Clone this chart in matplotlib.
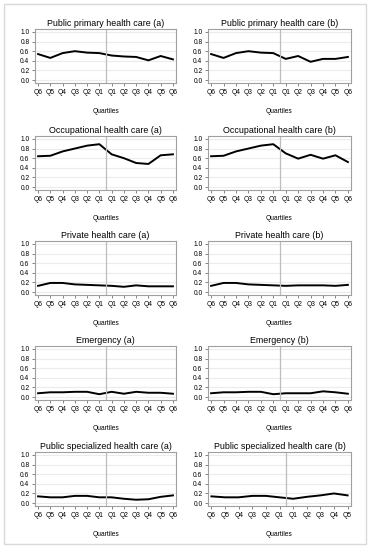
import matplotlib
matplotlib.use("Agg")
import matplotlib.pyplot as plt
from matplotlib.patches import Rectangle

plt.rcParams['font.family'] = ['Liberation Sans', 'DejaVu Sans']

labels_12 = ["Q6", "Q5", "Q4", "Q3", "Q2", "Q1", "Q1", "Q2", "Q3", "Q4", "Q5", "Q6"]
labels_11 = ["Q6", "Q5", "Q4", "Q3", "Q2", "Q1", "Q1", "Q2", "Q3", "Q4", "Q5"]

primary_a = [0.54, 0.46, 0.56, 0.60, 0.57, 0.56, 0.51, 0.49, 0.48, 0.41, 0.50, 0.43]
primary_b = [0.54, 0.46, 0.56, 0.60, 0.57, 0.56, 0.44, 0.50, 0.38, 0.44, 0.44, 0.48]
occup_a = [0.64, 0.65, 0.74, 0.80, 0.86, 0.89, 0.68, 0.60, 0.50, 0.48, 0.66, 0.68]
occup_b = [0.64, 0.65, 0.74, 0.80, 0.86, 0.89, 0.70, 0.59, 0.67, 0.59, 0.66, 0.52]
private_a = [0.13, 0.19, 0.19, 0.16, 0.15, 0.14, 0.13, 0.11, 0.14, 0.12, 0.12, 0.12]
private_b = [0.13, 0.19, 0.19, 0.16, 0.15, 0.14, 0.13, 0.14, 0.14, 0.14, 0.13, 0.15]
emerg_a = [0.08, 0.10, 0.10, 0.11, 0.11, 0.06, 0.11, 0.07, 0.11, 0.09, 0.09, 0.07]
emerg_b = [0.08, 0.10, 0.10, 0.11, 0.11, 0.06, 0.08, 0.08, 0.08, 0.12, 0.10, 0.07]
special_a = [0.14, 0.12, 0.12, 0.15, 0.15, 0.12, 0.12, 0.09, 0.07, 0.08, 0.13, 0.16]
special_b = [0.14, 0.12, 0.12, 0.15, 0.15, 0.12, 0.09, 0.13, 0.16, 0.20, 0.16]

panels = [
    ("Public primary health care (a)", primary_a, labels_12),
    ("Public primary health care (b)", primary_b, labels_12),
    ("Occupational health care (a)", occup_a, labels_12),
    ("Occupational health care (b)", occup_b, labels_12),
    ("Private health care (a)", private_a, labels_12),
    ("Private health care (b)", private_b, labels_12),
    ("Emergency (a)", emerg_a, labels_12),
    ("Emergency (b)", emerg_b, labels_12),
    ("Public specialized health care (a)", special_a, labels_12),
    ("Public specialized health care (b)", special_b, labels_11),
]

W, H = 369, 550
fig = plt.figure(figsize=(W / 100, H / 100), dpi=100)
fig.patches.append(Rectangle((4 / W, 6 / H), 362 / W, 540 / H, transform=fig.transFigure,
                             fill=False, edgecolor="#d9d9d9", linewidth=1))

col_x = [(35, 176), (208, 351)]
row_top = [29, 136, 241, 346, 452]
ax_h = 54

for i, (title, vals, labs) in enumerate(panels):
    r, c = divmod(i, 2)
    x0, x1 = col_x[c]
    top = row_top[r]
    ax = fig.add_axes([x0 / W, 1 - (top + ax_h) / H, (x1 - x0) / W, ax_h / H])
    xs = list(range(len(vals)))
    ax.plot(xs, vals, color="black", linewidth=1.4)
    ax.axvline(5.5, color="#bdbdbd", linewidth=0.9)
    ax.set_xlim(-0.25, len(vals) - 0.75)
    ax.set_ylim(-0.06, 1.06)
    ax.set_yticks([0.0, 0.2, 0.4, 0.6, 0.8, 1.0])
    ax.set_yticklabels(["0.0", "0.2", "0.4", "0.6", "0.8", "1.0"])
    ax.set_xticks(xs)
    ax.set_xticklabels(labs)
    ax.grid(axis="y", color="#ececec", linewidth=0.8)
    ax.set_axisbelow(True)
    for s in ax.spines.values():
        s.set_color("#a0a0a0")
        s.set_linewidth(0.8)
    ax.tick_params(labelsize=4.8, length=2, width=0.6, color="#707070", pad=2)
    ax.set_title(title, fontsize=6.4, pad=2.5)
    ax.set_xlabel("Quartiles", fontsize=4.8, labelpad=9)

fig.savefig("out.png", dpi=100)
